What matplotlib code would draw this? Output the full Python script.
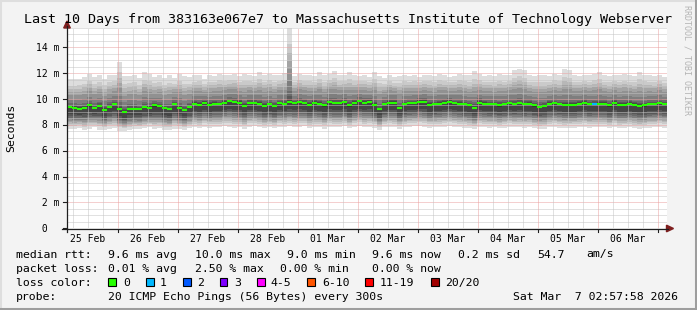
import numpy as np
import matplotlib
matplotlib.use("Agg")
import matplotlib.pyplot as plt
import matplotlib.dates as mdates
import matplotlib.transforms as mtrans
from matplotlib.patches import Rectangle, Polygon
from matplotlib.lines import Line2D
from datetime import datetime, timedelta

plt.rcParams['font.family'] = 'DejaVu Sans Mono'

title = "Last 10 Days from 383163e067e7 to Massachusetts Institute of Technology Webserver"
start = datetime(2026, 2, 25, 3, 36)
end = datetime(2026, 3, 7, 3, 36)
sample_hours = 2

# median rtt per 2h sample (ms)
median_ms = [9.35, 9.33, 9.25, 9.33, 9.50, 9.30, 9.45, 9.15, 9.40, 9.60,
             9.20, 9.00, 9.20, 9.20, 9.20, 9.38, 9.33, 9.50, 9.43, 9.28,
             9.20, 9.60, 9.33, 9.12, 9.38, 9.64, 9.54, 9.72, 9.55, 9.64,
             9.59, 9.72, 9.85, 9.77, 9.72, 9.45, 9.70, 9.70, 9.62, 9.46,
             9.59, 9.45, 9.68, 9.59, 9.75, 9.68, 9.77, 9.70, 9.55, 9.72,
             9.65, 9.50, 9.77, 9.68, 9.70, 9.77, 9.50, 9.72, 9.85, 9.72,
             9.79, 9.54, 9.20, 9.59, 9.72, 9.72, 9.33, 9.59, 9.67, 9.67,
             9.79, 9.79, 9.54, 9.59, 9.64, 9.72, 9.79, 9.69, 9.64, 9.59,
             9.51, 9.33, 9.72, 9.64, 9.59, 9.59, 9.51, 9.59, 9.67, 9.59,
             9.67, 9.59, 9.64, 9.51, 9.41, 9.45, 9.64, 9.67, 9.60, 9.54,
             9.56, 9.56, 9.64, 9.70, 9.58, 9.60, 9.64, 9.64, 9.50, 9.70,
             9.55, 9.55, 9.62, 9.55, 9.45, 9.50, 9.59, 9.59, 9.67, 9.59]

# slowest ping per sample (ms)
top_ms = [11.52, 11.52, 11.58, 11.70, 11.96, 11.70, 11.83, 11.58, 11.83, 11.88,
          12.90, 11.78, 11.78, 11.88, 11.63, 12.09, 11.96, 11.70, 11.83, 11.63,
          11.83, 11.63, 11.96, 11.78, 11.70, 11.83, 11.88, 11.52, 11.83, 11.78,
          11.96, 11.83, 11.88, 11.96, 11.78, 11.96, 11.83, 11.78, 12.09, 11.88,
          11.96, 11.83, 11.88, 12.04, 15.50, 11.78, 11.96, 11.83, 11.88, 11.78,
          12.09, 11.83, 11.96, 12.14, 11.83, 11.88, 12.09, 11.83, 11.78, 11.88,
          11.70, 12.09, 11.78, 11.63, 11.83, 11.70, 11.78, 11.88, 11.78, 11.83,
          11.70, 11.83, 11.88, 11.78, 11.96, 11.83, 11.70, 11.78, 11.96, 11.88,
          11.83, 12.14, 11.96, 11.78, 11.83, 11.78, 11.96, 11.83, 11.88, 12.22,
          12.35, 12.22, 11.83, 11.78, 11.88, 11.83, 11.78, 11.96, 11.88, 12.30,
          12.22, 11.83, 11.78, 11.88, 11.83, 11.96, 12.09, 11.83, 11.78, 11.88,
          11.83, 11.96, 11.83, 11.78, 12.09, 11.88, 11.83, 11.78, 11.88, 11.70]

# fastest ping per sample (ms)
bottom_ms = [7.70, 7.65, 7.75, 7.60, 7.70, 7.80, 7.62, 7.58, 7.70, 7.75,
             7.55, 7.50, 7.62, 7.70, 7.65, 7.72, 7.80, 7.68, 7.75, 7.62,
             7.58, 7.70, 7.65, 7.60, 7.72, 7.80, 7.75, 7.85, 7.78, 7.80,
             7.82, 7.90, 7.85, 7.78, 7.80, 7.70, 7.85, 7.88, 7.80, 7.72,
             7.80, 7.75, 7.85, 7.82, 7.90, 7.80, 7.85, 7.88, 7.75, 7.82,
             7.80, 7.70, 7.85, 7.80, 7.82, 7.88, 7.72, 7.85, 7.90, 7.82,
             7.85, 7.78, 7.62, 7.80, 7.85, 7.82, 7.70, 7.80, 7.85, 7.88,
             7.90, 7.85, 7.78, 7.80, 7.82, 7.85, 7.90, 7.85, 7.80, 7.78,
             7.75, 7.65, 7.85, 7.80, 7.78, 7.80, 7.72, 7.78, 7.85, 7.80,
             7.82, 7.78, 7.80, 7.72, 7.68, 7.70, 7.80, 7.85, 7.78, 7.75,
             7.76, 7.78, 7.82, 7.85, 7.78, 7.80, 7.82, 7.80, 7.72, 7.85,
             7.75, 7.76, 7.80, 7.75, 7.70, 7.72, 7.78, 7.80, 7.85, 7.78]

lossy_samples = {105: 1}   # sample index -> loss bucket

loss_labels = ["0", "1", "2", "3", "4-5", "6-10", "11-19", "20/20"]
loss_colors = ["#26ff00", "#00b8ff", "#0059ff", "#7e00ff", "#ff00ff",
               "#ff5500", "#ff0000", "#a10000"]

rtt_stats = ["9.6 ms avg", "10.0 ms max", "9.0 ms min", "9.6 ms now",
             "0.2 ms sd", "54.7", "am/s"]
loss_stats = ["0.01 % avg", "2.50 % max", "0.00 % min", "0.00 % now"]
probe_text = "20 ICMP Echo Pings (56 Bytes) every 300s"
stamp = "Sat Mar  7 02:57:58 2026"

BACK = "#f3f3f3"
AXIS = "#1f1f1f"
GRID = "#c4c4c4"
MGRID = "#eba0a0"
W, H = 697, 310


def fx(x):
    return x / W


def fy(y):
    return 1 - y / H


fig = plt.figure(figsize=(W / 100, H / 100), dpi=100, facecolor=BACK)
ax = fig.add_axes([fx(67), fy(228.3), 600 / W, 200.4 / H])
ax.set_facecolor("white")
ax.set_xlim(start, end)
ax.set_ylim(0, 15.5)
ax.set_xticks([])
ax.set_yticks([])
for s in ax.spines.values():
    s.set_visible(False)

n = len(median_ms)
xe = mdates.date2num([start + timedelta(hours=sample_hours * i) for i in range(n + 1)])
med = np.array(median_ms)
top = np.array(top_ms)
bot = np.array(bottom_ms)

# smoke: 20 pings sorted, outer pairs light, inner pairs dark
down_frac = [1.0, 0.85, 0.77, 0.70, 0.63, 0.56, 0.48, 0.40, 0.30, 0.05]
up_frac = [0.02, 0.05, 0.09, 0.15, 0.28, 0.45, 0.56, 0.66, 0.78, 1.0]
pings = [med - (med - bot) * f for f in down_frac] + [med + (top - med) * f for f in up_frac]
for i in range(10):
    g = int(190 / 10 * (9 - i)) + 50
    lo = pings[i]
    hi = pings[19 - i]
    ax.fill_between(xe, np.append(lo, lo[-1]), np.append(hi, hi[-1]), step='post',
                    color='#%02x%02x%02x' % (g, g, g), lw=0, zorder=1)

# grid
dot = (0, (1, 1))
for v in np.arange(0.5, 15.51, 0.5):
    if v % 2 != 0:
        ax.axhline(v, color=GRID, lw=0.72, ls=dot, zorder=2, clip_on=False)
for v in range(2, 15, 2):
    ax.axhline(v, color=MGRID, lw=0.72, ls=dot, zorder=2)
t = datetime(2026, 2, 25, 6)
while t < end:
    c = MGRID if t.hour == 0 else GRID
    ax.axvline(mdates.date2num(t), color=c, lw=0.72, ls=dot, zorder=2 if t.hour else 2.1)
    t += timedelta(hours=6)

# median line coloured by loss
cols = [loss_colors[lossy_samples.get(i, 0)] for i in range(n)]
ax.hlines(med, xe[:-1], xe[1:], colors=cols, lw=1.5, zorder=3, capstyle='butt')

# axes with arrows
fig.add_artist(Line2D([fx(62), fx(668)], [fy(228.5), fy(228.5)], color=AXIS, lw=0.9))
fig.add_artist(Line2D([fx(67), fx(67)], [fy(232), fy(26)], color=AXIS, lw=0.9))
fig.add_artist(Polygon([(fx(666.5), fy(225.2)), (fx(673.5), fy(228.5)), (fx(666.5), fy(231.8))],
                       closed=True, color="#7f1f1f", transform=fig.transFigure))
fig.add_artist(Polygon([(fx(63.7), fy(28)), (fx(67), fy(21)), (fx(70.3), fy(28))],
                       closed=True, color="#7f1f1f", transform=fig.transFigure))

# y ticks and labels
ylab = ax.get_yaxis_transform()
for v in range(0, 15, 2):
    ax.plot([-4.5 / 600, 0], [v, v], color=AXIS, lw=0.8, transform=ylab, clip_on=False)
    lab = " 0" if v == 0 else "%2d m" % v
    ax.text((36 - 67) / 600, v - 3.6 / 12.93, lab, transform=ylab, ha='left',
            va='baseline', fontsize=7, color='black', clip_on=False)

# x labels at noon, ticks at midnight
xlab = mtrans.blended_transform_factory(ax.transData, fig.transFigure)
day = datetime(2026, 2, 25)
for k in range(10):
    d = day + timedelta(days=k)
    ax.text(mdates.date2num(d + timedelta(hours=12)), fy(241.6), d.strftime("%d %b"),
            transform=xlab, ha='center', va='baseline', fontsize=7)
    m = mdates.date2num(d + timedelta(days=1))
    fig.add_artist(Line2D([m, m], [fy(228.5), fy(231.5)], color=AXIS, lw=0.8, transform=xlab))

# titles
fig.text(fx(347.5), fy(23.5), title, ha='center', va='baseline', fontsize=9.6)
fig.text(fx(11), fy(128), "Seconds", rotation=90, ha='center', va='center', fontsize=8.25)
fig.text(fx(687), fy(60), "RRDTOOL / TOBI OETIKER", rotation=270, ha='center',
         va='center', fontsize=6, color="#b4b4b4")

# legend
fs = 8.25
base = [257.5, 271.7, 285.9, 300.1]
fig.text(fx(16), fy(base[0]), "median rtt:", va='baseline', fontsize=fs)
for s, x in zip(rtt_stats, [107.5, 195, 287, 372.5, 458, 537, 586]):
    fig.text(fx(x), fy(base[0]), s, va='baseline', fontsize=fs)
fig.text(fx(16), fy(base[1]), "packet loss:", va='baseline', fontsize=fs)
for s, x in zip(loss_stats, [107.5, 195, 280, 372]):
    fig.text(fx(x), fy(base[1]), s, va='baseline', fontsize=fs)
fig.text(fx(16), fy(base[2]), "loss color:", va='baseline', fontsize=fs)
for lab, col, bx, tx in zip(loss_labels, loss_colors,
                            [108, 146, 183, 220, 257, 307, 365, 431],
                            [123, 160, 197, 234, 270, 322, 380, 445]):
    fig.add_artist(Rectangle((fx(bx), fy(285.5)), 7.5 / W, 7.5 / H, facecolor=col,
                             edgecolor='black', lw=0.8, transform=fig.transFigure))
    fig.text(fx(tx), fy(base[2]), lab, va='baseline', fontsize=fs)
fig.text(fx(16), fy(base[3]), "probe:", va='baseline', fontsize=fs)
fig.text(fx(107.5), fy(base[3]), probe_text, va='baseline', fontsize=fs)
fig.text(fx(513), fy(base[3]), stamp, va='baseline', fontsize=fs)

# 3d frame
fig.add_artist(Line2D([0, 1], [fy(1), fy(1)], color="#dedede", lw=1.5))
fig.add_artist(Line2D([fx(1), fx(1)], [0, 1], color="#dedede", lw=1.5))
fig.add_artist(Line2D([0, 1], [fy(308.5), fy(308.5)], color="#9e9e9e", lw=2.2))
fig.add_artist(Line2D([fx(695.5), fx(695.5)], [0, 1], color="#9e9e9e", lw=2.2))

fig.savefig("out.png", dpi=100, facecolor=BACK)
